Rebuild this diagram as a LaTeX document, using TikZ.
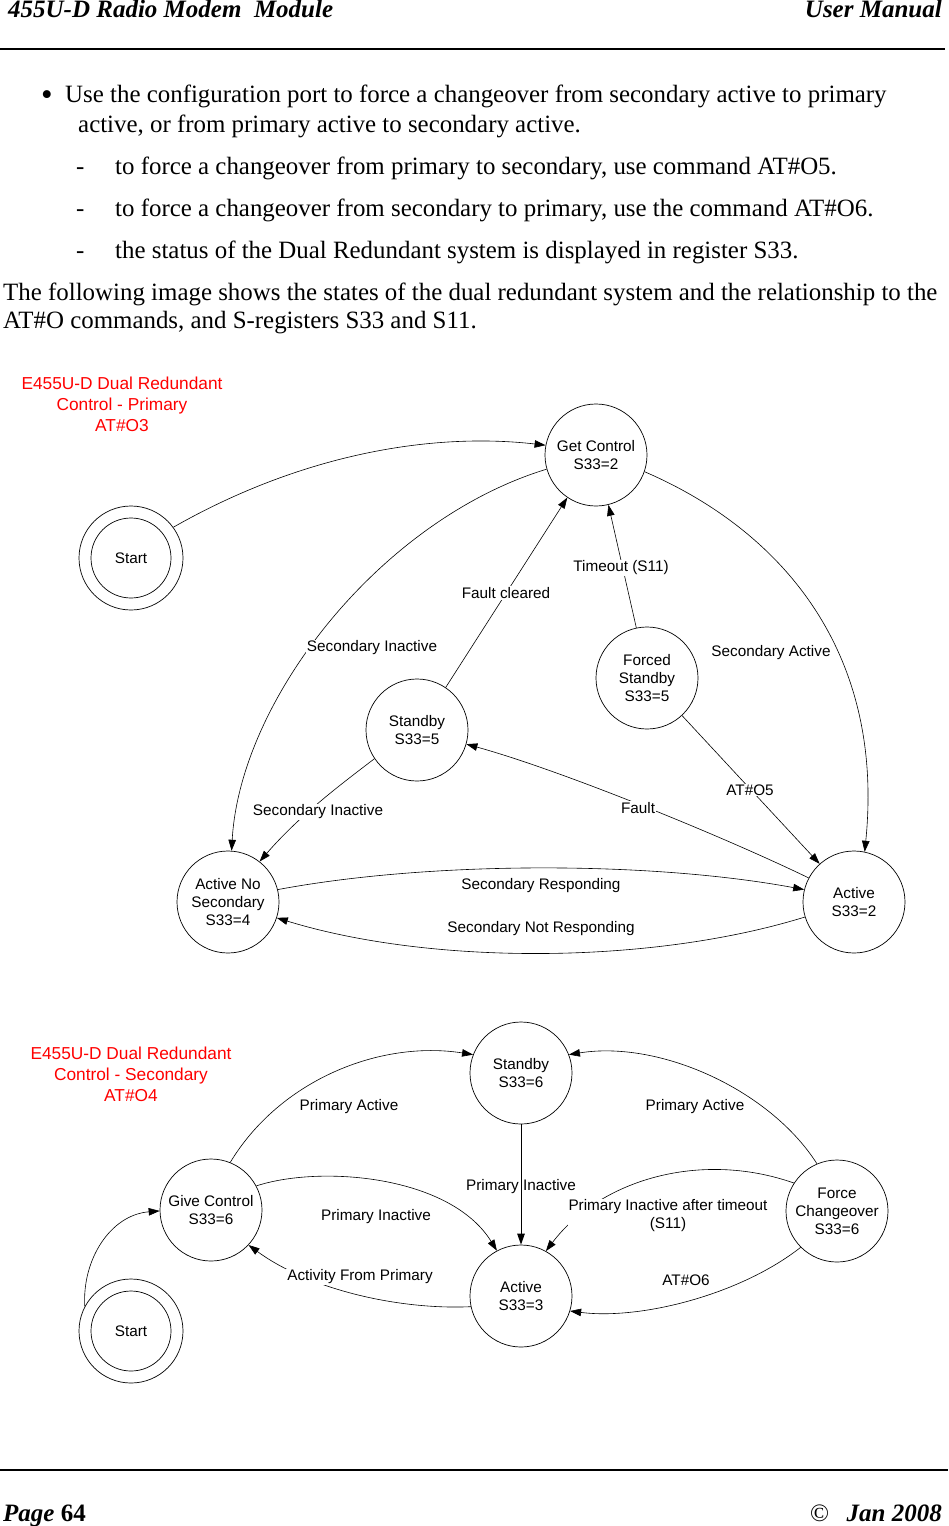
\documentclass[tikz,border=0pt]{standalone}
\usepackage{fontspec}
\setmainfont{Liberation Serif}
\newfontfamily\arialfam{Liberation Sans}
\usetikzlibrary{arrows.meta}
\newcommand\mybody{\fontsize{24.9}{29}\selectfont}
\newcommand\myhdr{\fontsize{25}{30}\selectfont\bfseries\itshape}
\newcommand\mydia{\arialfam\fontsize{15.3}{18}\selectfont}
\newcommand\myred{\arialfam\fontsize{17.3}{21}\selectfont}
\definecolor{labred}{RGB}{255,0,0}
\begin{document}
\begin{tikzpicture}[x=1pt,y=-1pt,
 state/.style={circle,draw,line width=0.7pt,minimum size=102pt,inner sep=0pt,align=center,font=\mydia},
 ring/.style={circle,draw,line width=0.7pt,inner sep=0pt,font=\mydia},
 tr/.style={line width=0.6pt,-{Triangle[length=11pt,width=7.5pt]}},
 lbl/.style={font=\mydia,inner sep=1pt,align=center},
 wlbl/.style={lbl,fill=white},
 redlbl/.style={font=\myred,text=labred,align=center,inner sep=0pt},
 body/.style={anchor=base west,font=\mybody,inner sep=0pt},
 hdr/.style={font=\myhdr,inner sep=0pt}]
\useasboundingbox (0,0) rectangle (948,1526);

% header
\node[hdr,anchor=base west] (hl) at (8,17) {455U-D Radio Modem~~Module};
\node[hdr,anchor=base east] (hr) at (942,17) {User Manual};
\draw[line width=1.3pt] (0,49) -- (945,49);

% body text
\node[anchor=base west,inner sep=0pt,font=\fontsize{33}{33}\selectfont] (bul) at (41,105) {\textbullet};
\node[body] (t1) at (65,102) {Use the configuration port to force a changeover from secondary active to primary};
\node[body] (t2) at (78,132) {active, or from primary active to secondary active.};
\node[body] (d1) at (76,174) {-};
\node[body] (t3) at (115,174) {to force a changeover from primary to secondary, use command AT\#O5.};
\node[body] (d2) at (76,216) {-};
\node[body] (t4) at (115,216) {to force a changeover from secondary to primary, use the command AT\#O6.};
\node[body] (d3) at (76,258) {-};
\node[body] (t5) at (115,258) {the status of the Dual Redundant system is displayed in register S33.};
\node[body] (t6) at (3,300) {The following image shows the states of the dual redundant system and the relationship to the};
\node[body] (t7) at (3,328) {AT\#O commands, and S-registers S33 and S11.};

% ---------- Diagram 1 ----------
\node[redlbl] (r1) at (122,404) {E455U-D Dual Redundant\\Control - Primary\\AT\#O3};
\node[ring,minimum size=104pt] (st1) at (131,558) {};
\node[ring,minimum size=80pt] (st1i) at (131,558) {Start};
\node[state] (gc) at (596,455) {Get Control\\S33=2};
\node[state] (fs) at (647,678) {Forced\\Standby\\S33=5};
\node[state] (sb1) at (417,730) {Standby\\S33=5};
\node[state] (ans) at (228,902) {Active No\\Secondary\\S33=4};
\node[state] (act) at (854,902) {Active\\S33=2};

\draw[tr] (st1.36) .. controls (300,455) and (430,432) .. (gc.169);
\draw[tr] (gc.196) .. controls (380,520) and (240,700) .. (ans.86);
\draw[tr] (sb1.56) -- (gc.236);
\draw[tr] (fs.102) -- (gc.284);
\draw[tr] (gc.341) .. controls (780,530) and (885,650) .. (act.78);
\draw[tr] (fs.313) -- (act.132);
\draw[tr] (act.152) .. controls (720,835) and (560,770) .. (sb1.344);
\draw[tr] (sb1.214) .. controls (340,785) and (300,815) .. (ans.52);
\draw[tr] (ans.14) .. controls (430,861) and (650,861) .. (act.166);
\draw[tr] (act.197) .. controls (650,965) and (430,965) .. (ans.342);

\node[wlbl] (e1) at (372,648) {Secondary Inactive};
\node[wlbl] (e2) at (506,593) {Fault cleared};
\node[wlbl] (e3) at (621,568) {Timeout (S11)};
\node[wlbl] (e4) at (771,653) {Secondary Active};
\node[wlbl] (e5) at (750,790) {AT\#O5};
\node[wlbl] (e6) at (638,808) {Fault};
\node[wlbl] (e7) at (318,812) {Secondary Inactive};
\node[lbl] (e8) at (541,886) {Secondary Responding};
\node[lbl] (e9) at (541,929) {Secondary Not Responding};

% ---------- Diagram 2 ----------
\node[redlbl] (r2) at (131,1074) {E455U-D Dual Redundant\\Control - Secondary\\AT\#O4};
\node[state] (sb2) at (521,1073) {Standby\\S33=6};
\node[state] (gc2) at (211,1210) {Give Control\\S33=6};
\node[state] (a3) at (521,1296) {Active\\S33=3};
\node[state] (fc) at (837,1211) {Force\\Changeover\\S33=6};
\node[ring,minimum size=104pt] (st2) at (131,1331) {};
\node[ring,minimum size=80pt] (st2i) at (131,1331) {Start};

\draw[tr] (st2.152) .. controls (82,1260) and (110,1215) .. (gc2.181);
\draw[tr] (gc2.68) .. controls (280,1080) and (380,1040) .. (sb2.159);
\draw[tr] (fc.113) .. controls (770,1090) and (660,1040) .. (sb2.21);
\draw[tr,line width=1pt] (sb2) -- (a3);
\draw[tr] (gc2.28) .. controls (320,1165) and (450,1175) .. (a3.118);
\draw[tr] (fc.147) .. controls (700,1150) and (600,1180) .. (a3.61);
\draw[tr] (fc.225) .. controls (740,1295) and (640,1320) .. (a3.343);
\draw[tr] (a3.192) .. controls (400,1310) and (310,1290) .. (gc2.317);

\node[lbl] (f1) at (349,1107) {Primary Active};
\node[lbl] (f2) at (695,1107) {Primary Active};
\node[lbl] (f3) at (521,1187) {Primary Inactive};
\node[lbl] (f4) at (376,1217) {Primary Inactive};
\node[wlbl] (f5) at (668,1216) {Primary Inactive after timeout\\(S11)};
\node[lbl] (f6) at (686,1280) {AT\#O6};
\node[wlbl] (f7) at (360,1277) {Activity From Primary};

% footer
\draw[line width=2pt] (0,1470) -- (948,1470);
\node[hdr,anchor=base west] (pg) at (3,1521) {Page {\upshape 64}};
\node[font=\fontsize{25}{30}\selectfont,anchor=base west,inner sep=0pt] (cp) at (810,1521) {©};
\node[hdr,anchor=base east] (dt) at (942,1521) {Jan 2008};
\end{tikzpicture}
\end{document}
